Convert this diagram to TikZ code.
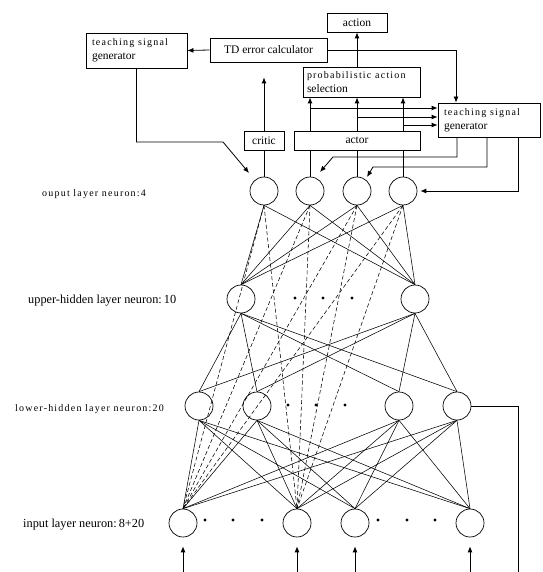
\documentclass[tikz,border=0pt]{standalone}
\usepackage{fontspec}
\setmainfont{Liberation Serif}
\newfontfamily\spacedfont[LetterSpace=12]{Liberation Serif}
\usetikzlibrary{arrows.meta,calc}
\begin{document}
\begin{tikzpicture}[x=1pt,y=-1pt,
 box/.style={draw,line width=0.8pt,inner sep=0pt,font=\fontsize{11.5}{14}\selectfont},
 neuron/.style={draw,circle,line width=0.7pt,minimum size=28pt,inner sep=0pt},
 dotn/.style={circle,fill,minimum size=3.2pt,inner sep=0pt},
 link/.style={line width=0.55pt},
 skip/.style={line width=0.55pt,dash pattern=on 4pt off 2.5pt},
 arr/.style={line width=0.8pt,-{Latex[length=6pt,width=5pt]}},
 wire/.style={line width=0.8pt},
 lab/.style={anchor=west,inner sep=0pt,font=\fontsize{12.3}{14}\selectfont},
 slab/.style={anchor=west,inner sep=0pt,font=\spacedfont\fontsize{10}{14}\selectfont},
]
\useasboundingbox (0,0) rectangle (542,572);

% ---- boxes ----
\node[box,minimum width=101pt,minimum height=35pt,text width=89pt,align=left] (tsgl) at (136.5,50.5)
 {{\spacedfont\fontsize{10}{14}\selectfont teaching signal}\\generator};
\node[box,minimum width=117pt,minimum height=24pt] (td) at (268.5,50) {TD error calculator};
\node[box,minimum width=60pt,minimum height=19pt] (act) at (357,22.5) {action};
\node[box,minimum width=117pt,minimum height=30pt,text width=109pt,align=left] (prob) at (361.5,82)
 {{\spacedfont\fontsize{10}{14}\selectfont probabilistic action}\\selection};
\node[box,minimum width=102pt,minimum height=34pt,text width=90pt,align=left] (tsgr) at (489,120)
 {{\spacedfont\fontsize{10}{14}\selectfont teaching signal}\\generator};
\node[box,minimum width=40pt,minimum height=19pt] (critic) at (264,140.5) {critic};
\node[box,minimum width=126pt,minimum height=19pt] (actor) at (357,140.5) {actor};

% ---- neurons ----
\node[neuron] (O1) at (264,191) {};
\node[neuron] (O2) at (310,191) {};
\node[neuron] (O3) at (357,191) {};
\node[neuron] (O4) at (403,191) {};
\node[neuron] (U1) at (241,299) {};
\node[neuron] (U2) at (415,299) {};
\node[neuron] (L1) at (199,406) {};
\node[neuron] (L2) at (257,406) {};
\node[neuron] (L3) at (399,406) {};
\node[neuron] (L4) at (457,406) {};
\node[neuron] (I1) at (183,523) {};
\node[neuron] (I2) at (297,523) {};
\node[neuron] (I3) at (355,523) {};
\node[neuron] (I4) at (470,523) {};

% ---- dots ----
\node[dotn] (du1) at (295,298) {};
\node[dotn] (du2) at (323,298) {};
\node[dotn] (du3) at (352,298) {};
\node[dotn] (dl1) at (288,405) {};
\node[dotn] (dl2) at (316,405) {};
\node[dotn] (dl3) at (345,405) {};
\node[dotn] (di1) at (205,520) {};
\node[dotn] (di2) at (233,520) {};
\node[dotn] (di3) at (262,520) {};
\node[dotn] (di4) at (378,520) {};
\node[dotn] (di5) at (407,520) {};
\node[dotn] (di6) at (435,520) {};

% ---- labels ----
\node[slab] (lo) at (42,194) {ouput layer neuron:4};
\node[lab] (lu) at (28,301) {upper-hidden layer neuron:\,10};
\node[slab] (ll) at (15,409) {lower-hidden layer neuron:20};
\node[lab] (li) at (23,525) {input layer neuron:\,8+20};

% ---- network links ----
\foreach \a in {O1,O2,O3,O4}{\foreach \b in {U1,U2}{\draw[link] (\a.south) -- (\b.north);}}
\foreach \a in {U1,U2}{\foreach \b in {L1,L2,L3,L4}{\draw[link] (\a.south) -- (\b.north);}}
\foreach \a in {L1,L2,L3,L4}{\foreach \b in {I1,I2,I3,I4}{\draw[link] (\a.south) -- (\b.north);}}
\foreach \a in {O1,O2,O3,O4}{\foreach \b in {I1,I2}{\draw[skip] (\a.south) -- (\b.north);}}

% ---- helper coordinates ----
\coordinate (bot) at (0,572);
\coordinate (y1) at (0,108);
\coordinate (y2) at (0,117);
\coordinate (y3) at (0,125);
\coordinate (k1) at (223,142);
\coordinate (t1) at (249,173);
\coordinate (f1) at (457,157);
\coordinate (g1) at (333,157);
\coordinate (t2) at (320,172);
\coordinate (f2) at (487,167);
\coordinate (g2) at (373,167);
\coordinate (t3) at (367,177);
\coordinate (f3) at (518,187);
\coordinate (rx) at (456,0);
\coordinate (fb) at (518,572);

% ---- top connectors ----
\draw[arr] (td.west) -- (tsgl.east);
\draw[arr] (td.east) -| (rx |- tsgr.north);
\draw[arr] (act.south |- prob.north) -- (act.south);
\draw[arr,shorten >=15pt] (critic.north) -- (critic.north |- td.south);
\foreach \o in {O2,O3,O4}{\draw[arr] (actor.north -| \o) -- (prob.south -| \o);}
\draw[arr] (O2 |- y1) -- (tsgr.west |- y1);
\draw[arr] (O3 |- y2) -- (tsgr.west |- y2);
\draw[arr] (O4 |- y3) -- (tsgr.west |- y3);
\draw[wire] (critic.south) -- (O1.north);
\foreach \o in {O2,O3,O4}{\draw[wire] (actor.south -| \o) -- (\o.north);}
\draw[arr] (tsgl.south) |- (k1) -- (t1);
\draw[arr] (tsgr.south -| f1) -- (f1) -- (g1) -- (t2);
\draw[arr] (tsgr.south -| f2) -- (f2) -- (g2) -- (t3);
\draw[arr,shorten >=3pt] (tsgr.south -| f3) |- (O4.east);

% ---- inputs and feedback ----
\foreach \i in {I1,I2,I3,I4}{\draw[arr,shorten >=9pt] (\i |- bot) -- (\i.south);}
\draw[wire] (L4.east) -| (fb);
\end{tikzpicture}
\end{document}
